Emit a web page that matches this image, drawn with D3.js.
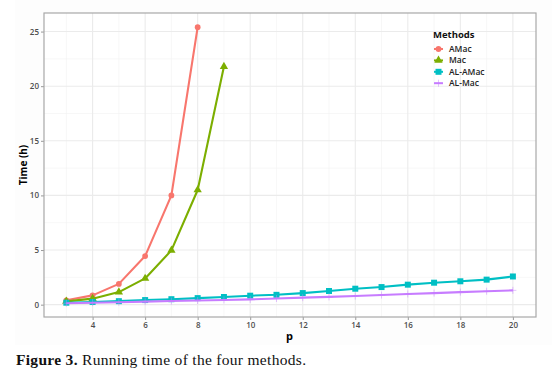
<!DOCTYPE html>
<html><head><meta charset="utf-8">
<script src="https://cdn.jsdelivr.net/npm/d3@7"></script>
<style>body{margin:0;background:#fff}svg{display:block}</style>
</head><body><svg id="c" width="552" height="379"></svg>
<script>
const methods = ["AMac", "Mac", "AL-AMac", "AL-Mac"];
const colors = ["#F8766D", "#7CAE00", "#00BFC4", "#C77CFF"];
const shapes = ["circle", "triangle", "square", "cross"];
const pAMac = [3, 4, 5, 6, 7, 8];
const vAMac = [0.4, 0.85, 1.9, 4.45, 10.0, 25.4];
const pMac = [3, 4, 5, 6, 7, 8, 9];
const vMac = [0.3, 0.55, 1.15, 2.4, 4.97, 10.5, 21.8];
const pAL = [3, 4, 5, 6, 7, 8, 9, 10, 11, 12, 13, 14, 15, 16, 17, 18, 19, 20];
const vALAMac = [0.18, 0.25, 0.32, 0.42, 0.5, 0.6, 0.7, 0.82, 0.9, 1.06, 1.25, 1.46, 1.61, 1.83, 2.01, 2.14, 2.29, 2.58];
const vALMac = [0.13, 0.18, 0.22, 0.28, 0.33, 0.38, 0.43, 0.48, 0.56, 0.64, 0.71, 0.79, 0.88, 0.98, 1.06, 1.15, 1.23, 1.31];
const xTicks = [4, 6, 8, 10, 12, 14, 16, 18, 20];
const xMinor = [3, 5, 7, 9, 11, 13, 15, 17, 19];
const yTicks = [0, 5, 10, 15, 20, 25];
const yMinor = [2.5, 7.5, 12.5, 17.5, 22.5];

const series = [
  {p: pAMac, v: vAMac},
  {p: pMac, v: vMac},
  {p: pAL, v: vALAMac},
  {p: pAL, v: vALMac}
];

const svg = d3.select("#c");
const L = 44, R = 536, T = 13, B = 317;
const x = d3.scaleLinear().domain([2.15, 20.88]).range([L, R]);
const y = d3.scaleLinear().domain([-1.13, 26.7]).range([B, T]);

svg.append("rect").attr("x", 15).attr("y", 0).attr("width", 537).attr("height", 345).attr("fill", "#fdfdfd");
svg.append("rect").attr("x", L).attr("y", T).attr("width", R - L).attr("height", B - T).attr("fill", "#ffffff");

const grid = svg.append("g");
yMinor.forEach(t => grid.append("line").attr("x1", L).attr("x2", R).attr("y1", y(t)).attr("y2", y(t)).attr("stroke", "#f2f2f2").attr("stroke-width", 0.6));
xMinor.forEach(t => grid.append("line").attr("y1", T).attr("y2", B).attr("x1", x(t)).attr("x2", x(t)).attr("stroke", "#f2f2f2").attr("stroke-width", 0.6));
yTicks.forEach(t => grid.append("line").attr("x1", L).attr("x2", R).attr("y1", y(t)).attr("y2", y(t)).attr("stroke", "#ebebeb").attr("stroke-width", 1.1));
xTicks.forEach(t => grid.append("line").attr("y1", T).attr("y2", B).attr("x1", x(t)).attr("x2", x(t)).attr("stroke", "#ebebeb").attr("stroke-width", 1.1));

const xAxis = svg.append("g").attr("transform", `translate(0,${B})`)
  .call(d3.axisBottom(x).tickValues(xTicks).tickSize(3).tickPadding(2).tickFormat(d3.format("d")));
const yAxis = svg.append("g").attr("transform", `translate(${L},0)`)
  .call(d3.axisLeft(y).tickValues(yTicks).tickSize(3).tickPadding(2).tickFormat(d3.format("d")));
[xAxis, yAxis].forEach(a => {
  a.select(".domain").remove();
  a.selectAll(".tick line").attr("stroke", "#999");
  a.selectAll(".tick text").attr("fill", "#4d4d4d").attr("font-family", "'Open Sans', sans-serif").attr("font-size", 8).attr("font-weight", 600);
});

svg.append("rect").attr("x", L).attr("y", T).attr("width", R - L).attr("height", B - T)
  .attr("fill", "none").attr("stroke", "#a8a8a8").attr("stroke-width", 1.2);

const line = d3.line().x(d => x(d[0])).y(d => y(d[1]));
const sym = {
  circle: d3.symbol(d3.symbolCircle, 26),
  triangle: d3.symbol(d3.symbolTriangle, 30),
  square: d3.symbol(d3.symbolSquare, 36),
  cross: d3.symbol(d3.symbolCross, 30)
};
function drawMarker(g, shape, color, cx, cy) {
  if (shape === "cross") {
    g.append("path").attr("d", `M${cx-3.5},${cy}H${cx+3.5}M${cx},${cy-3.5}V${cy+3.5}`)
      .attr("stroke", color).attr("stroke-width", 0.8).attr("fill", "none").attr("opacity", 0.6);
  } else {
    g.append("path").attr("d", sym[shape]()).attr("transform", `translate(${cx},${cy})`).attr("fill", color);
  }
}

series.forEach((s, i) => {
  const pts = s.p.map((p, j) => [p, s.v[j]]);
  const g = svg.append("g");
  g.append("path").datum(pts).attr("d", line).attr("fill", "none")
    .attr("stroke", colors[i]).attr("stroke-width", 2.1).attr("stroke-linejoin", "round");
  pts.forEach(d => drawMarker(g, shapes[i], colors[i], x(d[0]), y(d[1])));
});

svg.append("text").attr("x", x(11.5)).attr("y", 340).attr("text-anchor", "middle")
  .attr("font-family", "'Open Sans', sans-serif").attr("font-weight", 700).attr("font-size", 11).text("p");
svg.append("text").attr("transform", `translate(27,${(T + B) / 2}) rotate(-90)`).attr("text-anchor", "middle")
  .attr("font-family", "'Open Sans', sans-serif").attr("font-weight", 700).attr("font-size", 10).text("Time (h)");

const lg = svg.append("g");
lg.append("text").attr("x", 433).attr("y", 38).attr("font-family", "'Open Sans', sans-serif")
  .attr("font-weight", 700).attr("font-size", 9.5).attr("fill", "#111").text("Methods");
methods.forEach((m, i) => {
  const cy = 49 + i * 11.4;
  lg.append("line").attr("x1", 434).attr("x2", 443).attr("y1", cy).attr("y2", cy)
    .attr("stroke", colors[i]).attr("stroke-width", 2);
  drawMarker(lg, shapes[i], colors[i], 438.5, cy);
  lg.append("text").attr("x", 449).attr("y", cy + 3).attr("font-family", "'Open Sans', sans-serif")
    .attr("font-weight", 600).attr("font-size", 8.5).attr("fill", "#222").text(m);
});

const cap = svg.append("text").attr("x", 16).attr("y", 365).attr("font-family", "'Liberation Serif', 'DejaVu Serif', serif")
  .attr("font-size", 15.5).attr("fill", "#111").attr("textLength", 290).attr("lengthAdjust", "spacing");
cap.append("tspan").attr("font-weight", 700).text("Figure 3.");
cap.append("tspan").text(" Running time of the four methods.");
</script></body></html>
